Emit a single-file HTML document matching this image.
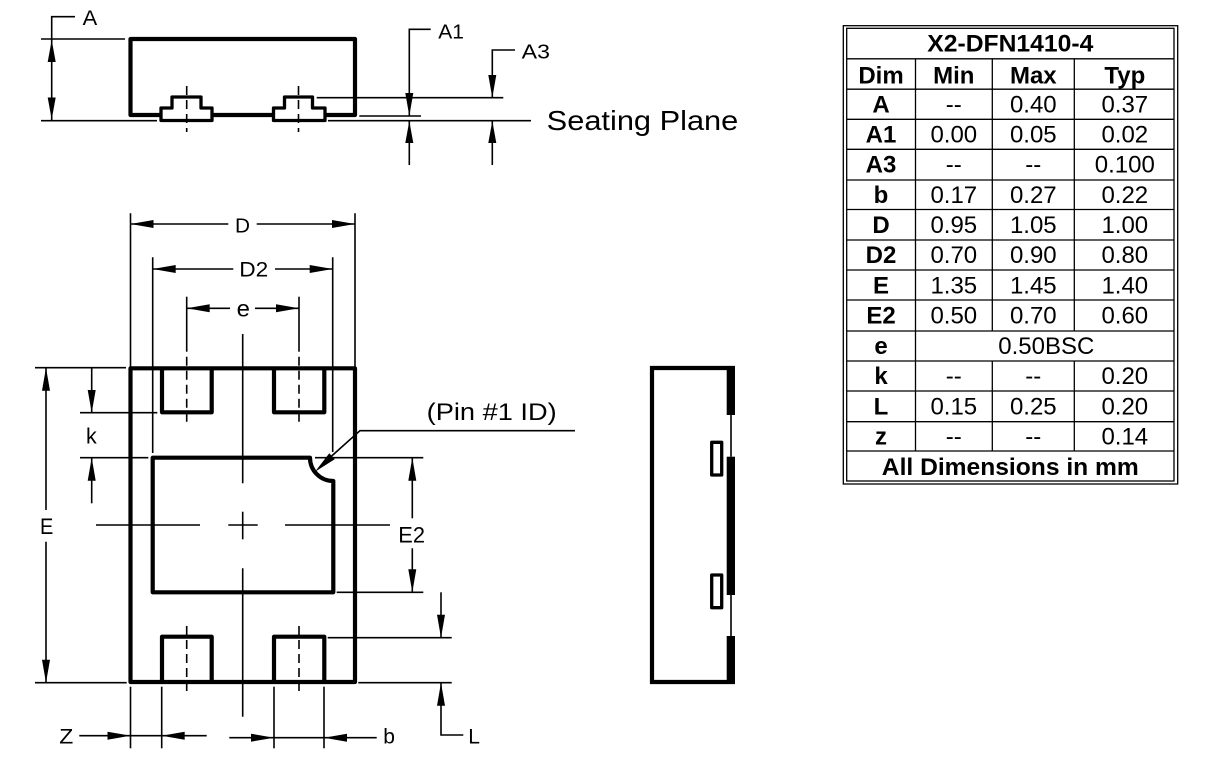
<!DOCTYPE html>
<html><head><meta charset="utf-8"><style>
html,body{margin:0;padding:0;background:#fff;}
svg{display:block;}
text{font-family:"Liberation Sans",Arial,sans-serif;fill:#000;}
.t{stroke:#000;stroke-width:1.6;fill:none;}
.k{stroke:#000;stroke-width:4.2;fill:none;stroke-linejoin:round;}
.p{stroke:#000;stroke-width:3.3;fill:#fff;stroke-linejoin:round;}
.d{stroke:#000;stroke-width:1.6;fill:none;stroke-dasharray:9 5;}
.a{fill:#000;stroke:none;}
.tb{font-size:24px;}
.bd{font-weight:bold;}
</style></head><body>
<svg width="1221" height="766" viewBox="0 0 1221 766" xmlns="http://www.w3.org/2000/svg">
<rect x="0" y="0" width="1221" height="766" fill="#fff"/>

<!-- ===== Top side view ===== -->
<path class="k" d="M161 115 L130.5 115 L130.5 39 L355 39 L355 115 L325 115"/>
<path class="k" d="M212 115 L273.5 115"/>
<path class="p" d="M161 108 L172 108 L172 97 L201 97 L201 108 L212 108 L212 120.5 L161 120.5 Z"/>
<path class="p" d="M273.5 108 L284.5 108 L284.5 97 L312.5 97 L312.5 108 L325 108 L325 120.5 L273.5 120.5 Z"/>
<line class="d" x1="186.7" y1="86" x2="186.7" y2="132" stroke-dasharray="10 4 4 4"/>
<line class="d" x1="298.5" y1="86" x2="298.5" y2="132" stroke-dasharray="10 4 4 4"/>
<!-- extension lines -->
<line class="t" x1="41" y1="39" x2="125" y2="39"/>
<line class="t" x1="41" y1="120.7" x2="157" y2="120.7"/>
<line class="t" x1="328" y1="120.7" x2="531" y2="120.7"/>
<line class="t" x1="316.7" y1="97.7" x2="503.3" y2="97.7"/>
<line class="t" x1="359.3" y1="116" x2="421" y2="116"/>
<!-- A -->
<polyline class="t" points="75,16.7 51.7,16.7 51.7,120.7"/>
<polygon class="a" points="51.7,40 47.7,62 55.7,62"/>
<polygon class="a" points="51.7,119.5 47.7,97.5 55.7,97.5"/>
<text x="82.7" y="25" font-size="21" textLength="14.6" lengthAdjust="spacingAndGlyphs">A</text>
<!-- A1 -->
<polyline class="t" points="430.7,29.3 409.3,29.3 409.3,116"/>
<line class="t" x1="409.3" y1="120.7" x2="409.3" y2="165"/>
<polygon class="a" points="409.3,116 405.3,93 413.3,93"/>
<polygon class="a" points="409.3,121 405.3,143 413.3,143"/>
<text x="438.3" y="38.3" font-size="20.5" textLength="25.7" lengthAdjust="spacingAndGlyphs">A1</text>
<!-- A3 -->
<polyline class="t" points="515,50 492.3,50 492.3,97.7"/>
<line class="t" x1="492.3" y1="120.7" x2="492.3" y2="165"/>
<polygon class="a" points="492.3,97.7 488.3,75 496.3,75"/>
<polygon class="a" points="492.3,121 488.3,143 496.3,143"/>
<text x="521.7" y="58.3" font-size="20.5" textLength="28.3" lengthAdjust="spacingAndGlyphs">A3</text>
<text x="546.7" y="130" font-size="28" textLength="191.6" lengthAdjust="spacingAndGlyphs">Seating Plane</text>

<!-- ===== Main top view ===== -->
<!-- D -->
<line class="t" x1="130.5" y1="213.3" x2="130.5" y2="368"/>
<line class="t" x1="355" y1="213.3" x2="355" y2="368"/>
<line class="t" x1="130.5" y1="224" x2="228.3" y2="224"/>
<line class="t" x1="256.7" y1="224" x2="355" y2="224"/>
<polygon class="a" points="130.5,224 153.5,220 153.5,228"/>
<polygon class="a" points="355,224 332,220 332,228"/>
<text x="235" y="232.7" font-size="20.5" textLength="15" lengthAdjust="spacingAndGlyphs">D</text>
<!-- D2 -->
<line class="t" x1="152.7" y1="257.3" x2="152.7" y2="453"/>
<line class="t" x1="332.7" y1="257.3" x2="332.7" y2="452"/>
<line class="t" x1="152.7" y1="269" x2="233.3" y2="269"/>
<line class="t" x1="275" y1="269" x2="332.7" y2="269"/>
<polygon class="a" points="152.7,269 175.7,265 175.7,273"/>
<polygon class="a" points="332.7,269 309.7,265 309.7,273"/>
<text x="239.3" y="276.7" font-size="21" textLength="29" lengthAdjust="spacingAndGlyphs">D2</text>
<!-- e -->
<line class="t" x1="186.7" y1="296.7" x2="186.7" y2="351.7"/>
<line class="t" x1="299" y1="296.7" x2="299" y2="351.7"/>
<line class="d" x1="186.7" y1="356.7" x2="186.7" y2="425"/>
<line class="d" x1="299" y1="356.7" x2="299" y2="425"/>
<line class="t" x1="186.7" y1="308.3" x2="230" y2="308.3"/>
<line class="t" x1="255" y1="308.3" x2="299" y2="308.3"/>
<polygon class="a" points="186.7,308.3 209.7,304.3 209.7,312.3"/>
<polygon class="a" points="299,308.3 276,304.3 276,312.3"/>
<text x="236.7" y="316.7" font-size="23" textLength="13.3" lengthAdjust="spacingAndGlyphs">e</text>

<!-- centre lines -->
<line class="t" x1="242.7" y1="334" x2="242.7" y2="483.3"/>
<line class="t" x1="242.7" y1="511.7" x2="242.7" y2="539.3"/>
<line class="t" x1="242.7" y1="568.3" x2="242.7" y2="716.7"/>
<line class="t" x1="96" y1="525" x2="200" y2="525"/>
<line class="t" x1="228.3" y1="525" x2="257.7" y2="525"/>
<line class="t" x1="285" y1="525" x2="390" y2="525"/>

<!-- body -->
<rect class="k" x="130.5" y="368.3" width="224.5" height="313.7"/>
<path class="k" d="M162 368 L162 412.3 L211.7 412.3 L211.7 368"/>
<path class="k" d="M274 368 L274 412.3 L324.3 412.3 L324.3 368"/>
<path class="k" d="M162 682 L162 636.7 L211.7 636.7 L211.7 682"/>
<path class="k" d="M274 682 L274 636.7 L324.3 636.7 L324.3 682"/>
<path class="k" d="M152.7 457.7 L310 457.7 A23.3 23.3 0 0 0 333.3 481 L333.3 592.3 L152.7 592.3 Z"/>
<line class="d" x1="186.7" y1="626" x2="186.7" y2="693.3" stroke-dasharray="8 5"/>
<line class="d" x1="299" y1="626" x2="299" y2="693.3" stroke-dasharray="8 5"/>

<!-- k -->
<line class="t" x1="35" y1="367.7" x2="126" y2="367.7"/>
<line class="t" x1="80" y1="412.7" x2="157.3" y2="412.7"/>
<line class="t" x1="80" y1="457.7" x2="148.3" y2="457.7"/>
<line class="t" x1="91.7" y1="367.7" x2="91.7" y2="412.7"/>
<line class="t" x1="91.7" y1="457.7" x2="91.7" y2="503.3"/>
<polygon class="a" points="91.7,412.7 87.7,390 95.7,390"/>
<polygon class="a" points="91.7,457.7 87.7,480.7 95.7,480.7"/>
<text x="86" y="443.3" font-size="22" textLength="10.7" lengthAdjust="spacingAndGlyphs">k</text>
<!-- E -->
<line class="t" x1="35" y1="682.7" x2="126.7" y2="682.7"/>
<line class="t" x1="46" y1="367.7" x2="46" y2="510"/>
<line class="t" x1="46" y1="541.7" x2="46" y2="682.7"/>
<polygon class="a" points="46,367.7 42,390.7 50,390.7"/>
<polygon class="a" points="46,682.7 42,659.7 50,659.7"/>
<text x="40" y="534" font-size="22" textLength="13.3" lengthAdjust="spacingAndGlyphs">E</text>
<!-- E2 -->
<line class="t" x1="315" y1="457.7" x2="423.3" y2="457.7"/>
<line class="t" x1="336.7" y1="592.3" x2="423.3" y2="592.3"/>
<line class="t" x1="412.3" y1="457.7" x2="412.3" y2="518.3"/>
<line class="t" x1="412.3" y1="548.3" x2="412.3" y2="592.3"/>
<polygon class="a" points="412.3,457.7 408.3,480.7 416.3,480.7"/>
<polygon class="a" points="412.3,592.3 408.3,569.3 416.3,569.3"/>
<text x="398.3" y="542.3" font-size="22" textLength="26.7" lengthAdjust="spacingAndGlyphs">E2</text>
<!-- Pin 1 -->
<polyline class="t" points="330,457.5 360,430.7 575,430.7"/>
<polygon class="a" points="315,471.7 334.7,459.2 329.3,453.2"/>
<text x="426.7" y="420" font-size="24" textLength="130" lengthAdjust="spacingAndGlyphs">(Pin #1 ID)</text>
<!-- L -->
<line class="t" x1="327.7" y1="637.7" x2="451.7" y2="637.7"/>
<line class="t" x1="358.3" y1="682.7" x2="451.7" y2="682.7"/>
<line class="t" x1="441" y1="592.3" x2="441" y2="637.7"/>
<polyline class="t" points="441,682.7 441,735 463.3,735"/>
<polygon class="a" points="441,637.7 437,614.7 445,614.7"/>
<polygon class="a" points="441,682.7 437,705.7 445,705.7"/>
<text x="468.3" y="743.3" font-size="21" textLength="11.7" lengthAdjust="spacingAndGlyphs">L</text>
<!-- Z / b -->
<line class="t" x1="130.5" y1="686.7" x2="130.5" y2="748.3"/>
<line class="t" x1="161.7" y1="686.7" x2="161.7" y2="748.3"/>
<line class="t" x1="274" y1="686.7" x2="274" y2="748.3"/>
<line class="t" x1="324" y1="686.7" x2="324" y2="748.3"/>
<line class="t" x1="79.3" y1="735.7" x2="206.7" y2="735.7"/>
<polygon class="a" points="130.5,735.7 107.5,731.7 107.5,739.7"/>
<polygon class="a" points="161.7,735.7 184.7,731.7 184.7,739.7"/>
<text x="59.3" y="743.3" font-size="21" textLength="14" lengthAdjust="spacingAndGlyphs">Z</text>
<line class="t" x1="229.3" y1="737.7" x2="376.7" y2="737.7"/>
<polygon class="a" points="274,737.7 251,733.7 251,741.7"/>
<polygon class="a" points="324,737.7 347,733.7 347,741.7"/>
<text x="383.3" y="743.3" font-size="21" textLength="11.7" lengthAdjust="spacingAndGlyphs">b</text>

<!-- ===== Right side view ===== -->
<line class="k" x1="652" y1="366" x2="652" y2="684"/>
<line class="k" x1="650" y1="368" x2="735" y2="368"/>
<line class="k" x1="650" y1="682" x2="735" y2="682"/>
<rect class="a" x="726.7" y="366" width="8.3" height="49"/>
<rect class="a" x="726.7" y="456.7" width="8.3" height="138.3"/>
<rect class="a" x="726.7" y="636" width="8.3" height="48"/>
<line class="t" x1="731" y1="415" x2="731" y2="456.7" stroke-width="2"/>
<line class="t" x1="731" y1="595" x2="731" y2="636" stroke-width="2"/>
<rect class="p" x="711.7" y="442.3" width="10" height="32.7"/>
<rect class="p" x="711.7" y="575" width="10" height="32.7"/>

<!-- ===== Table ===== -->
<rect x="843.3" y="25.7" width="334.4" height="458.3" fill="none" stroke="#000" stroke-width="1.3"/>
<rect x="846.7" y="28.3" width="327.3" height="452.7" fill="none" stroke="#000" stroke-width="1.3"/>
<g stroke="#000" stroke-width="1.3">
<line x1="846.7" y1="58.8" x2="1174" y2="58.8"/>
<line x1="846.7" y1="89.2" x2="1174" y2="89.2"/>
<line x1="846.7" y1="119.3" x2="1174" y2="119.3"/>
<line x1="846.7" y1="149.3" x2="1174" y2="149.3"/>
<line x1="846.7" y1="180" x2="1174" y2="180"/>
<line x1="846.7" y1="209.5" x2="1174" y2="209.5"/>
<line x1="846.7" y1="240" x2="1174" y2="240"/>
<line x1="846.7" y1="270" x2="1174" y2="270"/>
<line x1="846.7" y1="300" x2="1174" y2="300"/>
<line x1="846.7" y1="331" x2="1174" y2="331"/>
<line x1="846.7" y1="361" x2="1174" y2="361"/>
<line x1="846.7" y1="391" x2="1174" y2="391"/>
<line x1="846.7" y1="421.7" x2="1174" y2="421.7"/>
<line x1="846.7" y1="451" x2="1174" y2="451"/>
<line x1="915.5" y1="58.8" x2="915.5" y2="451"/>
<line x1="992.3" y1="58.8" x2="992.3" y2="331"/>
<line x1="992.3" y1="361" x2="992.3" y2="451"/>
<line x1="1074.3" y1="58.8" x2="1074.3" y2="331"/>
<line x1="1074.3" y1="361" x2="1074.3" y2="451"/>
</g>
<g class="tb" text-anchor="middle">
<text class="bd" x="1010.3" y="51.7" textLength="166" lengthAdjust="spacingAndGlyphs">X2-DFN1410-4</text>
<g class="bd">
<text x="881" y="83.3">Dim</text><text x="953.8" y="83.3">Min</text><text x="1033.3" y="83.3">Max</text><text x="1124.8" y="83.3">Typ</text>
<text x="881" y="112.7">A</text>
<text x="881" y="142.7">A1</text>
<text x="881" y="172.7">A3</text>
<text x="881" y="203">b</text>
<text x="881" y="233">D</text>
<text x="881" y="263">D2</text>
<text x="881" y="293.3">E</text>
<text x="881" y="323.5">E2</text>
<text x="881" y="354">e</text>
<text x="881" y="384">k</text>
<text x="881" y="414.3">L</text>
<text x="881" y="444.5">z</text>
<text x="1010.3" y="475" textLength="257" lengthAdjust="spacingAndGlyphs">All Dimensions in mm</text>
</g>
<text x="953.8" y="112.7">--</text><text x="1033.3" y="112.7">0.40</text><text x="1124.8" y="112.7">0.37</text>
<text x="953.8" y="142.7">0.00</text><text x="1033.3" y="142.7">0.05</text><text x="1124.8" y="142.7">0.02</text>
<text x="953.8" y="172.7">--</text><text x="1033.3" y="172.7">--</text><text x="1124.8" y="172.7">0.100</text>
<text x="953.8" y="203">0.17</text><text x="1033.3" y="203">0.27</text><text x="1124.8" y="203">0.22</text>
<text x="953.8" y="233">0.95</text><text x="1033.3" y="233">1.05</text><text x="1124.8" y="233">1.00</text>
<text x="953.8" y="263">0.70</text><text x="1033.3" y="263">0.90</text><text x="1124.8" y="263">0.80</text>
<text x="953.8" y="293.3">1.35</text><text x="1033.3" y="293.3">1.45</text><text x="1124.8" y="293.3">1.40</text>
<text x="953.8" y="323.5">0.50</text><text x="1033.3" y="323.5">0.70</text><text x="1124.8" y="323.5">0.60</text>
<text x="1046.3" y="354">0.50BSC</text>
<text x="953.8" y="384">--</text><text x="1033.3" y="384">--</text><text x="1124.8" y="384">0.20</text>
<text x="953.8" y="414.3">0.15</text><text x="1033.3" y="414.3">0.25</text><text x="1124.8" y="414.3">0.20</text>
<text x="953.8" y="444.5">--</text><text x="1033.3" y="444.5">--</text><text x="1124.8" y="444.5">0.14</text>
</g>
</svg>
</body></html>
